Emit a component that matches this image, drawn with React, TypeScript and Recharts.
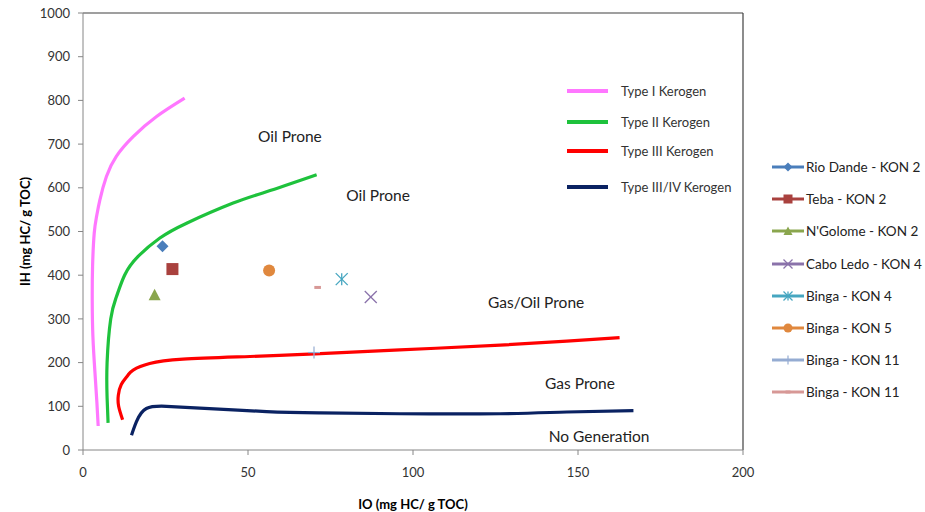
import { ComposedChart, Scatter, XAxis, YAxis, ReferenceLine, ReferenceDot } from "recharts";

const xTicks = [0, 50, 100, 150, 200];
const yTicks = [0, 100, 200, 300, 400, 500, 600, 700, 800, 900, 1000];

// kerogen evolution curves (IO, IH)
const typeI = [
  { x: 4.6, y: 55 }, { x: 4.2, y: 110 }, { x: 3.6, y: 180 }, { x: 3.0, y: 260 }, { x: 2.8, y: 340 },
  { x: 2.9, y: 420 }, { x: 3.4, y: 496 }, { x: 4.1, y: 534 }, { x: 5.1, y: 572 }, { x: 7.1, y: 626 },
  { x: 10.1, y: 672 }, { x: 15.2, y: 717 }, { x: 22.3, y: 763 }, { x: 30.8, y: 805 },
];
const typeII = [
  { x: 7.6, y: 62 }, { x: 7.3, y: 120 }, { x: 7.3, y: 200 }, { x: 8.4, y: 300 }, { x: 10.1, y: 350 },
  { x: 12.6, y: 400 }, { x: 16.7, y: 443 }, { x: 23.3, y: 485 }, { x: 31.4, y: 519 }, { x: 45.5, y: 565 },
  { x: 55.6, y: 591 }, { x: 70.8, y: 630 },
];
const typeIII = [
  { x: 12.0, y: 69 }, { x: 10.8, y: 100 }, { x: 10.7, y: 125 }, { x: 11.6, y: 150 }, { x: 13.5, y: 170 },
  { x: 15.2, y: 183 }, { x: 20.2, y: 198 }, { x: 30.3, y: 208 }, { x: 50.6, y: 214 }, { x: 70.3, y: 220 },
  { x: 96, y: 229 }, { x: 126.4, y: 240 }, { x: 146.6, y: 249 }, { x: 162.6, y: 257 },
];
const typeIIIIV = [
  { x: 14.7, y: 34 }, { x: 16.2, y: 65 }, { x: 19.2, y: 95 }, { x: 25.3, y: 100 }, { x: 35.4, y: 96 },
  { x: 55.6, y: 88 }, { x: 72, y: 85 }, { x: 96, y: 83 }, { x: 126.4, y: 83 }, { x: 146.6, y: 87 },
  { x: 166.8, y: 90 },
];

// samples
const rioDande = [{ x: 24.1, y: 466 }];
const teba = [{ x: 27.1, y: 414 }];
const ngolome = [{ x: 21.7, y: 355 }];
const caboLedo = [{ x: 87.2, y: 350 }];
const bingaKon4 = [{ x: 78.4, y: 391 }];
const bingaKon5 = [{ x: 56.4, y: 411 }];
const bingaKon11a = [{ x: 70.0, y: 223 }];
const bingaKon11b = [{ x: 71.1, y: 372 }];

const zones = [
  { x: 62.7, y: 717, text: "Oil Prone" },
  { x: 89.4, y: 582, text: "Oil Prone" },
  { x: 137.3, y: 337, text: "Gas/Oil Prone" },
  { x: 150.6, y: 153, text: "Gas Prone" },
  { x: 156.4, y: 31, text: "No Generation" },
];

const curves = [
  { name: "Type I Kerogen", data: typeI, color: "#ff77ff" },
  { name: "Type II Kerogen", data: typeII, color: "#1ec23c" },
  { name: "Type III Kerogen", data: typeIII, color: "#ff0000" },
  { name: "Type III/IV Kerogen", data: typeIIIIV, color: "#0a2262" },
];

const samples = [
  { name: "Rio Dande  - KON 2", data: rioDande, color: "#4a7ebb", kind: "diamond" },
  { name: "Teba - KON 2", data: teba, color: "#a9413e", kind: "square" },
  { name: "N'Golome - KON 2", data: ngolome, color: "#8aa64e", kind: "triangle" },
  { name: "Cabo Ledo - KON 4", data: caboLedo, color: "#8a72aa", kind: "x" },
  { name: "Binga - KON 4", data: bingaKon4, color: "#46a6c0", kind: "star" },
  { name: "Binga - KON 5", data: bingaKon5, color: "#e0883e", kind: "circle" },
  { name: "Binga - KON 11", data: bingaKon11a, color: "#95acd2", kind: "plus" },
  { name: "Binga - KON 11", data: bingaKon11b, color: "#d79896", kind: "dash" },
];

const FONT = "Lato, 'Open Sans', sans-serif";

function Marker({ kind, cx, cy, color, s = 1 }: { kind: string; cx: number; cy: number; color: string; s?: number }) {
  const r = 6 * s;
  switch (kind) {
    case "diamond":
      return <polygon points={`${cx},${cy - r} ${cx + r},${cy} ${cx},${cy + r} ${cx - r},${cy}`} fill={color} />;
    case "square":
      return <rect x={cx - r} y={cy - r} width={2 * r} height={2 * r} fill={color} />;
    case "triangle":
      return <polygon points={`${cx},${cy - r} ${cx + r},${cy + r * 0.9} ${cx - r},${cy + r * 0.9}`} fill={color} />;
    case "circle":
      return <circle cx={cx} cy={cy} r={r} fill={color} />;
    case "x":
      return (
        <g stroke={color} strokeWidth={1.3}>
          <line x1={cx - r} y1={cy - r} x2={cx + r} y2={cy + r} />
          <line x1={cx - r} y1={cy + r} x2={cx + r} y2={cy - r} />
        </g>
      );
    case "star":
      return (
        <g stroke={color} strokeWidth={1.3}>
          <line x1={cx - r} y1={cy - r} x2={cx + r} y2={cy + r} />
          <line x1={cx - r} y1={cy + r} x2={cx + r} y2={cy - r} />
          <line x1={cx} y1={cy - r} x2={cx} y2={cy + r} />
        </g>
      );
    case "plus":
      return (
        <g stroke={color} strokeWidth={1.2}>
          <line x1={cx - r} y1={cy} x2={cx + r} y2={cy} />
          <line x1={cx} y1={cy - r} x2={cx} y2={cy + r} />
        </g>
      );
    case "dash":
      return <rect x={cx - r * 0.55} y={cy - 1.5} width={r * 1.1} height={3} fill={color} />;
    default:
      return null;
  }
}

const noDot = () => <g />;

function YTitle(props: any) {
  const { viewBox } = props;
  const x = viewBox.x + 25;
  const y = viewBox.y + viewBox.height / 2;
  return (
    <text x={x} y={y} transform={`rotate(-90 ${x} ${y})`} textAnchor="middle" dominantBaseline="central"
      fontFamily={FONT} fontSize={13} fontWeight={700} fill="#000">
      IH (mg HC/ g TOC)
    </text>
  );
}

export default function App() {
  return (
    <div style={{ position: "absolute", left: 0, top: 0, width: 925, height: 512, background: "#fff", fontFamily: FONT }}>
      <ComposedChart width={925} height={512} margin={{ top: 13, right: 182, left: 0, bottom: 0 }}>
        <XAxis type="number" dataKey="x" domain={[0, 200]} ticks={xTicks} stroke="#868686" tickSize={5} tickMargin={13}
          tick={{ fill: "#333", fontSize: 13, fontFamily: FONT }} height={62}
          label={{ value: "IO (mg HC/ g TOC)", position: "insideBottom", offset: 3, fill: "#000", fontSize: 13, fontWeight: 700, fontFamily: FONT }} />
        <YAxis type="number" dataKey="y" domain={[0, 1000]} ticks={yTicks} stroke="#868686" tickSize={5} tickMargin={8}
          tick={{ fill: "#333", fontSize: 13, fontFamily: FONT }} width={83} label={<YTitle />} />
        <ReferenceLine y={1000} stroke="#404040" strokeWidth={1.2} />
        <ReferenceLine x={200} stroke="#404040" strokeWidth={1.2} />
        {curves.map((c) => (
          <Scatter key={c.name} name={c.name} data={c.data} line={{ stroke: c.color, strokeWidth: 3.2 }}
            lineJointType="natural" shape={noDot} fill={c.color} isAnimationActive={false} />
        ))}
        {samples.map((s, i) => (
          <Scatter key={i} name={s.name} data={s.data} fill={s.color} isAnimationActive={false}
            shape={(p: any) => <Marker kind={s.kind} cx={p.cx} cy={p.cy} color={s.color} />} />
        ))}
        {zones.map((z, i) => (
          <ReferenceDot key={i} x={z.x} y={z.y} r={0} stroke="none"
            label={{ value: z.text, position: "center", fill: "#222", fontSize: 15.5, fontFamily: FONT }} />
        ))}
      </ComposedChart>

      <div style={{ position: "absolute", left: 567, top: 82 }}>
        {curves.map((c, i) => (
          <div key={c.name} style={{ position: "absolute", top: [0, 31, 60, 96][i], left: 0, width: 200, height: 18, display: "flex", alignItems: "center" }}>
            <div style={{ width: 41, height: 4, background: c.color }} />
            <span style={{ marginLeft: 13, fontSize: 13, color: "#333", whiteSpace: "nowrap" }}>{c.name}</span>
          </div>
        ))}
      </div>

      <div style={{ position: "absolute", left: 772, top: 158 }}>
        {samples.map((s, i) => (
          <div key={i} style={{ position: "absolute", top: i * 32.2, left: 0, width: 160, height: 18, display: "flex", alignItems: "center" }}>
            <svg width={32} height={14}>
              <line x1={0} y1={7} x2={32} y2={7} stroke={s.color} strokeWidth={3} />
              <Marker kind={s.kind} cx={16} cy={7} color={s.color} s={0.75} />
            </svg>
            <span style={{ marginLeft: 2, fontSize: 13.5, color: "#222", whiteSpace: "nowrap" }}>{s.name}</span>
          </div>
        ))}
      </div>
    </div>
  );
}
